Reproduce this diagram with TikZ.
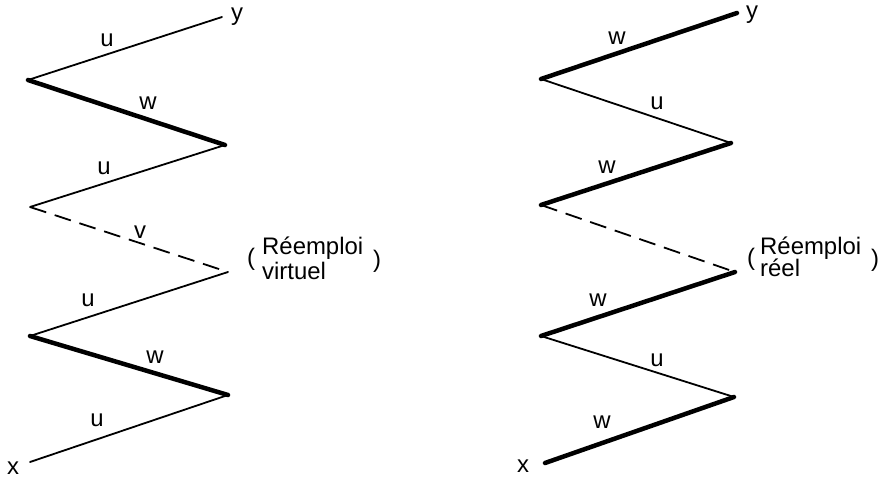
\documentclass[tikz,border=0pt]{standalone}
\usepackage{fontspec}
\setmainfont{Liberation Sans}
\usepackage{tikz}
\usetikzlibrary{positioning}
\tikzset{
  ln/.style={line width=1.8bp, line cap=round, draw=black},
  lnw/.style={ln, line width=4.5bp},
  lnv/.style={ln, line cap=butt, dash pattern=on 17bp off 9bp},
  lbl/.style={font=\fontsize{24}{27}\selectfont, inner sep=0pt},
}
\begin{document}
\begin{tikzpicture}[x=1bp, y=-1bp]
    \useasboundingbox (0,0) rectangle (892,479);
    \coordinate (ly) at (222,17);  \coordinate (a1) at (28,80);
    \coordinate (a2) at (225,145); \coordinate (a3) at (30,207);
    \coordinate (a4) at (228,272); \coordinate (a5) at (30,336);
    \coordinate (a6) at (228,395); \coordinate (lx) at (30,462);
    \draw[ln] (ly) -- (a1);
    \draw[lnw] (a1) -- (a2);
    \draw[ln] (a2) -- (a3);
    \draw[lnv] (a3) -- (a4);
    \draw[ln] (a4) -- (a5);
    \draw[lnw] (a5) -- (a6);
    \draw[ln] (a6) -- (lx);
    \node[lbl] (ly-t) at (237,17) {y};
    \node[lbl] (lx-t) at (13,468) {x};
    \node[lbl] (a-u1) at (107,40) {u};
    \node[lbl] (a-w1) at (148,103) {w};
    \node[lbl] (a-u2) at (104,168) {u};
    \node[lbl] (a-v) at (140,232) {v};
    \node[lbl] (a-u3) at (88,300) {u};
    \node[lbl] (a-w2) at (155,357) {w};
    \node[lbl] (a-u4) at (97,420) {u};
    \node[lbl] (a-po) at (251,259) {(};
    \node[lbl, anchor=base west] (a-r1) at (262,255) {Réemploi};
    \node[lbl, anchor=base west] (a-r2) at (262,280) {virtuel};
    \node[lbl] (a-pc) at (377,261) {)};
    \coordinate (ry) at (737,13);  \coordinate (b1) at (541,79);
    \coordinate (b2) at (731,143); \coordinate (b3) at (541,205);
    \coordinate (b4) at (735,272); \coordinate (b5) at (541,336);
    \coordinate (b6) at (734,397); \coordinate (rx) at (545,463);
    \draw[lnw] (ry) -- (b1);
    \draw[ln] (b1) -- (b2);
    \draw[lnw] (b2) -- (b3);
    \draw[lnv] (b3) -- (b4);
    \draw[lnw] (b4) -- (b5);
    \draw[ln] (b5) -- (b6);
    \draw[lnw] (b6) -- (rx);
    \node[lbl] (ry-t) at (752,15) {y};
    \node[lbl] (rx-t) at (523,466) {x};
    \node[lbl] (b-w1) at (617,38) {w};
    \node[lbl] (b-u1) at (657,103) {u};
    \node[lbl] (b-w2) at (607,167) {w};
    \node[lbl] (b-w3) at (598,300) {w};
    \node[lbl] (b-u2) at (657,360) {u};
    \node[lbl] (b-w4) at (602,422) {w};
    \node[lbl] (b-po) at (751,259) {(};
    \node[lbl, anchor=base west] (b-r1) at (760,255) {Réemploi};
    \node[lbl, anchor=base west] (b-r2) at (760,277) {réel};
    \node[lbl] (b-pc) at (875,260) {)};
\end{tikzpicture}
\end{document}
